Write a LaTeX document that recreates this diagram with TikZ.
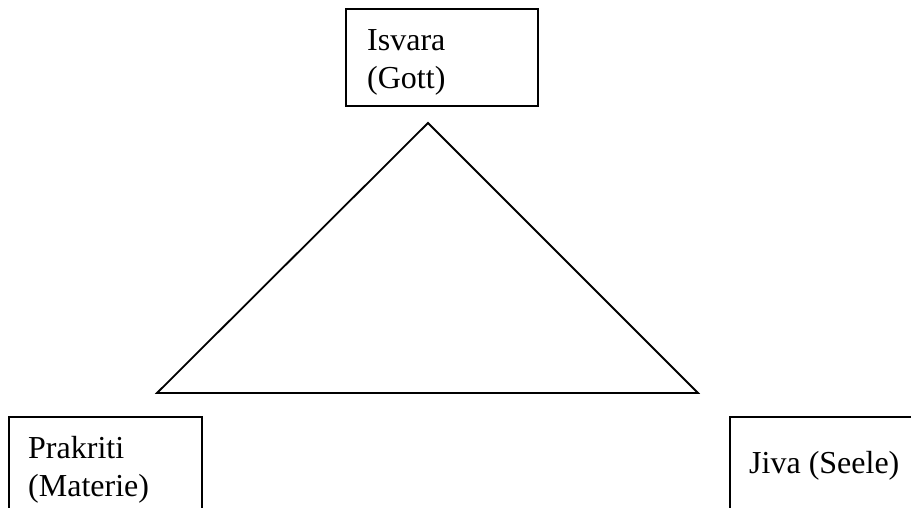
\documentclass[tikz,border=0pt]{standalone}
\usepackage{fontspec}
\setmainfont{Liberation Serif}
\begin{document}
\begin{tikzpicture}[x=1pt,y=-1pt,
  box/.style={draw=black, line width=1.8pt, fill=none, inner sep=0pt},
  lbl/.style={inner sep=0pt, anchor=base west, font=\fontsize{32}{38}\selectfont},
  tri/.style={draw=black, line width=1.8pt, line join=miter}]
\useasboundingbox (0,0) rectangle (911,508);
\clip (0,0) rectangle (911,508);
% boxes
\node[box, minimum width=192pt, minimum height=97pt] (isvarabox) at (442,57.5) {};
\node[box, minimum width=193pt, minimum height=140pt] (prakritibox) at (105.5,487) {};
\node[box, minimum width=220pt, minimum height=140pt] (jivabox) at (840,487) {};
% texts
\node[lbl] (isvara1) at (367,51) {Isvara};
\node[lbl] (isvara2) at (367,89) {(Gott)};
\node[lbl] (prakriti1) at (28,458) {Prakriti};
\node[lbl] (prakriti2) at (28,496) {(Materie)};
\node[lbl] (jiva) at (749,473) {Jiva (Seele)};
% triangle
\coordinate (apex) at (428,123);
\coordinate (bl) at (157,393);
\coordinate (br) at (698,393);
\draw[tri] (apex) -- (bl) -- (br) -- cycle;
\end{tikzpicture}
\end{document}
